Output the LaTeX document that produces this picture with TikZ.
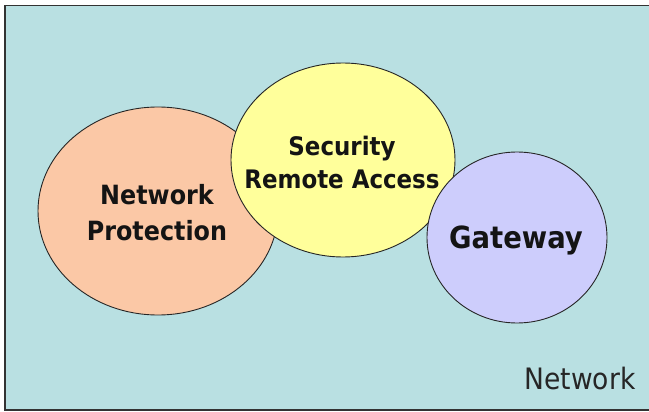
\documentclass[tikz,border=0pt]{standalone}
\usepackage{fontspec}
\setmainfont{DejaVu Sans Condensed}
\definecolor{bgcyan}{RGB}{185,224,226}
\definecolor{orangefill}{RGB}{251,200,166}
\definecolor{yellowfill}{RGB}{255,255,155}
\definecolor{purplefill}{RGB}{205,205,252}
\tikzset{
  blob/.style={draw=black!85, line width=0.9pt},
  bigtext/.style={font=\bfseries\fontsize{26.5}{36}\selectfont, align=center, text=black!92},
}
\begin{document}
\begin{tikzpicture}[x=1pt,y=-1pt]
\useasboundingbox (0,0) rectangle (649,412);
\node[draw=black!80, line width=1.5pt, fill=bgcyan, minimum width=646pt, minimum height=404pt, inner sep=0pt, anchor=north west] (frame) at (4,5) {};
\draw[blob, fill=orangefill] (158,211) ellipse [x radius=120, y radius=104];
\draw[blob, fill=yellowfill] (343,160) ellipse [x radius=112, y radius=97];
\draw[blob, fill=purplefill] (517,237.5) ellipse [x radius=90, y radius=85.5];
\node[bigtext] (np) at (157,213) {Network\\Protection};
\node[bigtext, font=\bfseries\fontsize{25.5}{33}\selectfont] (sra) at (342,162) {Security\\Remote Access};
\node[bigtext, font=\bfseries\fontsize{30.5}{34}\selectfont] (gw) at (516,240) {Gateway};
\node[font=\fontsize{29.5}{30}\selectfont, text=black!85] (net) at (580,379) {Network};
\end{tikzpicture}
\end{document}
